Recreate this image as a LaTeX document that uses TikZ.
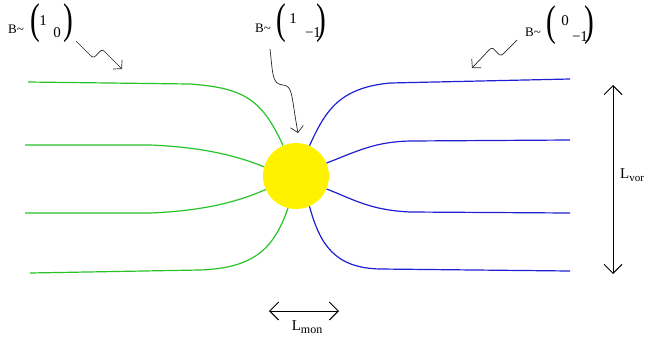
\documentclass[tikz,border=0pt]{standalone}
\usepackage{fontspec}
\setmainfont{Liberation Serif}
\usetikzlibrary{arrows.meta}
\definecolor{fgreen}{RGB}{40,195,40}
\definecolor{fblue}{RGB}{30,30,210}
\newcommand{\lpar}{\scalebox{0.68}[1]{(}}
\newcommand{\rpar}{\scalebox{0.68}[1]{)}}
\begin{document}
\begin{tikzpicture}[x=1pt,y=-1pt,
  fieldline/.style={line width=1.2pt},
  gline/.style={fieldline,draw=fgreen},
  bline/.style={fieldline,draw=fblue},
  wavy/.style={line width=0.7pt,draw=black!85,-{Straight Barb[length=6pt,width=13pt]}},
  dimline/.style={line width=0.9pt,{Straight Barb[length=9pt,width=18pt]}-{Straight Barb[length=9pt,width=18pt]}},
  lab/.style={inner sep=0pt,font=\fontsize{13}{15}\selectfont},
  num/.style={inner sep=0pt,font=\fontsize{15}{17}\selectfont},
  par/.style={inner sep=0pt,font=\fontsize{43}{43}\selectfont},
  dimlab/.style={inner sep=0pt,font=\fontsize{15}{17}\selectfont}
  ]
\useasboundingbox (0,0) rectangle (645,341);

% sun
\node[circle,fill=yellow,minimum size=66pt,inner sep=0pt] (sun) at (296,176) {};

% green field lines
\draw[gline] (28,82) -- (190,84) .. controls (245,88) and (262,100) .. (sun.113);
\draw[gline] (25,145) -- (150,145) .. controls (200,147) and (235,155) .. (sun.164);
\draw[gline] (25,213) -- (150,213) .. controls (200,211) and (235,203) .. (sun.204);
\draw[gline] (30,273) -- (200,270) .. controls (255,268) and (274,248) .. (sun.256);

% blue field lines
\draw[bline] (sun.66) .. controls (325,112) and (338,88) .. (390,83) -- (570,79);
\draw[bline] (sun.23) .. controls (360,150) and (375,142) .. (410,141) -- (570,140);
\draw[bline] (sun.-23) .. controls (355,200) and (370,210) .. (410,212) -- (570,213);
\draw[bline] (sun.-66) .. controls (320,245) and (335,268) .. (380,269) -- (570,271);

% left label
\node[lab,anchor=base west] (bl) at (8,33) {B\textasciitilde};
\node[par,anchor=base west] (pl1) at (30.6,33.5) {\lpar};
\node[par,anchor=base east] (pl2) at (73.4,33.5) {\rpar};
\node[num,anchor=base] (l1) at (43,25) {1};
\node[num,anchor=base] (l2) at (57,37) {0};

% middle label
\node[lab,anchor=base west] (bm) at (255,32) {B\textasciitilde};
\node[par,anchor=base west] (pm1) at (276.6,33) {\lpar};
\node[par,anchor=base east] (pm2) at (326.4,33) {\rpar};
\node[num,anchor=base] (m1) at (293,23) {1};
\node[num,anchor=base] (m2) at (313,37) {−1};

% right label
\node[lab,anchor=base west] (br) at (525,36) {B\textasciitilde};
\node[par,anchor=base west] (pr1) at (546.6,35) {\lpar};
\node[par,anchor=base east] (pr2) at (594.4,35) {\rpar};
\node[num,anchor=base] (r1) at (565,25) {0};
\node[num,anchor=base] (r2) at (580,41) {−1};

% wavy arrows
\coordinate (wl0) at (76,41);
\coordinate (wl1) at (122,69);
\draw[wavy] (wl0) -- (91,56) .. controls (96,61) and (99,47) .. (104,51) -- (wl1);
\coordinate (wm0) at (270,49);
\coordinate (wm1) at (298,133);
\draw[wavy] (wm0) .. controls (273,75) and (272,84) .. (283,85) .. controls (293,86) and (291,95) .. (wm1);
\coordinate (wr0) at (517,40);
\coordinate (wr1) at (472,68);
\draw[wavy] (wr0) -- (503,54) .. controls (498,59) and (495,45) .. (490,49) -- (wr1);

% dimension arrows
\coordinate (lm0) at (269,311);
\coordinate (lm1) at (339,311);
\draw[dimline] (lm0) -- (lm1);
\node[dimlab,anchor=base] (lmon) at (307,330) {L\raisebox{-3pt}{\fontsize{12}{12}\selectfont mon}};

\coordinate (lv0) at (613,85);
\coordinate (lv1) at (613,274);
\draw[dimline] (lv0) -- (lv1);
\node[dimlab,anchor=base west] (lvor) at (620,178) {L\raisebox{-3pt}{\fontsize{11}{11}\selectfont vor}};
\end{tikzpicture}
\end{document}
